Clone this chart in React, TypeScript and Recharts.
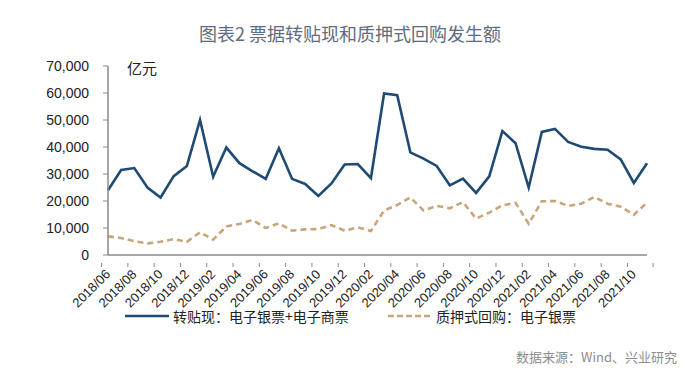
import { LineChart, Line, XAxis, YAxis } from 'recharts'

const months: string[] = []
for (let y = 2018; y <= 2021; y++) {
  for (let m = 1; m <= 12; m++) {
    if ((y === 2018 && m < 6) || (y === 2021 && m > 11)) continue
    months.push(`${y}/${String(m).padStart(2, '0')}`)
  }
}

// 转贴现：电子银票+电子商票
const rediscount = [
  24000, 31500, 32200, 25000, 21300, 29200, 33000, 50000, 29000, 39800,
  34000, 31000, 28200, 39500, 28200, 26300, 21900, 26500, 33500, 33700,
  28500, 59800, 59200, 38000, 35700, 33000, 25800, 28300, 23000, 29100,
  45900, 41400, 25000, 45600, 46700, 41900, 40100, 39300, 39000, 35400,
  26700, 34000,
]

// 质押式回购：电子银票
const repo = [
  6900, 6300, 5100, 4300, 4900, 5900, 4900, 8400, 5700, 10600,
  11500, 13000, 10000, 11700, 9000, 9500, 9600, 11100, 9000, 10200,
  8900, 16500, 18500, 21300, 16500, 18200, 17300, 19600, 13500, 15700,
  18400, 19300, 11600, 19900, 20000, 18200, 19000, 21500, 19000, 17900,
  14900, 19400,
]

const yTicks = [0, 10000, 20000, 30000, 40000, 50000, 60000, 70000]

const data = months.map((m, i) => ({ month: m, rediscount: rediscount[i], repo: repo[i] }))

const W = 700
const H = 374
const PLOT_LEFT = 108
const PLOT_RIGHT = 647
const BAND = (PLOT_RIGHT - PLOT_LEFT) / months.length
const AXIS_COLOR = '#8a8a8a'
const BLUE = '#1f4a74'
const TAN = '#c9a67a'
const LAST_LABEL = months[months.length - 2]

function MonthTick({ x, y, payload }: { x?: number; y?: number; payload?: { value: string } }) {
  if (x == null || y == null || !payload) return null
  const left = x - BAND / 2
  return (
    <g>
      <line x1={left} y1={y} x2={left} y2={y + 4} stroke={AXIS_COLOR} strokeWidth={1} />
      {payload.value === LAST_LABEL && (
        <line x1={left + 2 * BAND} y1={y} x2={left + 2 * BAND} y2={y + 4} stroke={AXIS_COLOR} strokeWidth={1} />
      )}
      <text
        x={x + 3}
        y={y + 12}
        textAnchor="end"
        transform={`rotate(-45, ${x + 3}, ${y + 12})`}
        fontSize={13}
        fontFamily="'Liberation Sans', Arial, sans-serif"
        fill="#222"
      >
        {payload.value}
      </text>
    </g>
  )
}

export default function App() {
  return (
    <div style={{ position: 'absolute', left: 0, top: 0, width: W, height: H, background: '#fff', fontFamily: "'Noto Sans CJK SC', sans-serif" }}>
      <div style={{ position: 'absolute', top: 20, left: 0, width: W, textAlign: 'center', fontSize: 18, color: '#5d6c80', lineHeight: '26px' }}>
        图表2 票据转贴现和质押式回购发生额
      </div>
      <div style={{ position: 'absolute', top: 57, left: 127, fontSize: 15, color: '#222', lineHeight: '22px' }}>亿元</div>

      <LineChart width={W} height={H} data={data} margin={{ top: 66, right: W - PLOT_RIGHT, bottom: 59, left: 0 }}>
        <XAxis
          dataKey="month"
          interval={1}
          height={60}
          tickLine={false}
          axisLine={{ stroke: AXIS_COLOR, strokeWidth: 1.5 }}
          tick={<MonthTick />}
        />
        <YAxis
          width={PLOT_LEFT}
          domain={[0, 70000]}
          ticks={yTicks}
          tickFormatter={(v: number) => v.toLocaleString('en-US')}
          tickSize={5}
          tickMargin={14}
          axisLine={{ stroke: AXIS_COLOR, strokeWidth: 1.5 }}
          tickLine={{ stroke: AXIS_COLOR }}
          tick={{ fontSize: 14, fill: '#222', fontFamily: "'Liberation Sans', Arial, sans-serif" }}
        />
        <Line type="linear" dataKey="rediscount" stroke={BLUE} strokeWidth={2.6} dot={false} isAnimationActive={false} />
        <Line type="linear" dataKey="repo" stroke={TAN} strokeWidth={2.6} strokeDasharray="6 4" dot={false} isAnimationActive={false} />
      </LineChart>

      <div style={{ position: 'absolute', top: 305, left: 125, display: 'flex', alignItems: 'center', fontSize: 14, color: '#222', lineHeight: '22px' }}>
        <svg width={44} height={6} style={{ marginRight: 4 }}>
          <line x1={0} y1={3} x2={44} y2={3} stroke={BLUE} strokeWidth={2.6} />
        </svg>
        <span>转贴现：电子银票+电子商票</span>
      </div>
      <div style={{ position: 'absolute', top: 305, left: 388, display: 'flex', alignItems: 'center', fontSize: 14, color: '#222', lineHeight: '22px' }}>
        <svg width={44} height={6} style={{ marginRight: 4 }}>
          <line x1={0} y1={3} x2={44} y2={3} stroke={TAN} strokeWidth={2.6} strokeDasharray="6 3" />
        </svg>
        <span>质押式回购：电子银票</span>
      </div>
      <div style={{ position: 'absolute', top: 347, right: 23, fontSize: 13, color: '#8c8c8c', lineHeight: '20px' }}>
        数据来源：Wind、兴业研究
      </div>
    </div>
  )
}
